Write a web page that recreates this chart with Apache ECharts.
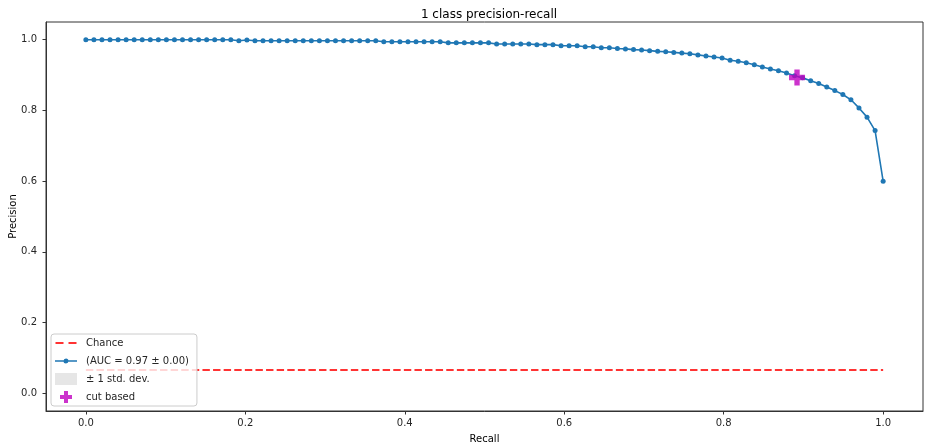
<!DOCTYPE html>
<html><head><meta charset="utf-8">
<script src="https://cdn.jsdelivr.net/npm/echarts@6/dist/echarts.min.js"></script>
<style>html,body{margin:0;padding:0;background:#fff}#c{width:927px;height:445px}</style>
</head><body><div id="c"></div>
<script>
const titleText = '1 class precision-recall';
const recall = [
 0.0000,0.0101,0.0202,0.0303,0.0404,0.0505,0.0606,0.0707,0.0808,0.0909,
 0.1010,0.1111,0.1212,0.1313,0.1414,0.1515,0.1616,0.1717,0.1818,0.1919,
 0.2020,0.2121,0.2222,0.2323,0.2424,0.2525,0.2626,0.2727,0.2828,0.2929,
 0.3030,0.3131,0.3232,0.3333,0.3434,0.3535,0.3636,0.3737,0.3838,0.3939,
 0.4040,0.4141,0.4242,0.4343,0.4444,0.4545,0.4646,0.4747,0.4848,0.4949,
 0.5051,0.5152,0.5253,0.5354,0.5455,0.5556,0.5657,0.5758,0.5859,0.5960,
 0.6061,0.6162,0.6263,0.6364,0.6465,0.6566,0.6667,0.6768,0.6869,0.6970,
 0.7071,0.7172,0.7273,0.7374,0.7475,0.7576,0.7677,0.7778,0.7879,0.7980,
 0.8081,0.8182,0.8283,0.8384,0.8485,0.8586,0.8687,0.8788,0.8889,0.8990,
 0.9091,0.9192,0.9293,0.9394,0.9495,0.9596,0.9697,0.9798,0.9899,1.0000
];
const precision = [
 1.000,1.000,1.000,1.000,1.000,1.000,1.000,1.000,1.000,1.000,
 1.000,1.000,1.000,1.000,1.000,1.000,1.000,1.000,1.000,0.997,
 0.999,0.997,0.997,0.997,0.997,0.997,0.997,0.997,0.997,0.997,
 0.997,0.997,0.997,0.997,0.997,0.997,0.997,0.994,0.994,0.994,
 0.994,0.994,0.994,0.994,0.994,0.991,0.991,0.991,0.991,0.991,
 0.991,0.988,0.988,0.988,0.988,0.988,0.986,0.986,0.986,0.983,
 0.983,0.983,0.980,0.980,0.977,0.977,0.975,0.974,0.972,0.971,
 0.969,0.967,0.966,0.964,0.962,0.960,0.957,0.954,0.951,0.948,
 0.942,0.939,0.935,0.929,0.923,0.917,0.912,0.906,0.898,0.892,
 0.884,0.876,0.866,0.856,0.845,0.830,0.807,0.781,0.743,0.600
];
const stdDev = 0.00;
const aucMean = 0.97;
const aucStd = 0.00;
const chanceX = [0, 1];
const chanceLevel = 0.066;
const cutPoint = [0.892, 0.893];
const xTicks = [0, 0.2, 0.4, 0.6, 0.8, 1.0];
const yTicks = [0, 0.2, 0.4, 0.6, 0.8, 1.0];
const names = {
  chance: 'Chance',
  auc: '(AUC = ' + aucMean.toFixed(2) + ' \u00b1 ' + aucStd.toFixed(2) + ')',
  std: '\u00b1 1 std. dev.',
  cut: 'cut based'
};

const FONT = 'DejaVu Sans';
const plus = 'path://M1,0H2V1H3V2H2V3H1V2H0V1H1Z';
const dashIcon = 'path://M0,5H8V7H0Z M13,5H21V7H13Z M0,0H0.01V0.01H0Z M0,11.99H0.01V12H0Z';
const lineDotIcon = 'path://M0,5.25H22V6.75H0Z M11,3.5A2.5,2.5 0 1 1 10.99,3.5Z M0,0H0.01V0.01H0Z M0,11.99H0.01V12H0Z';
const chart = echarts.init(document.getElementById('c'), null, {renderer: 'canvas'});
const axisCommon = {
  type: 'value', min: -0.05, max: 1.05,
  splitLine: {show: false},
  axisLine: {show: true, onZero: false, lineStyle: {color: '#333', width: 1}},
  nameLocation: 'middle',
  nameMoveOverlap: false,
  nameTextStyle: {fontFamily: FONT, fontSize: 10, color: '#000'}
};
chart.setOption({
  animation: false,
  backgroundColor: '#fff',
  title: {text: titleText, left: 484, top: 4, textAlign: 'center',
    textStyle: {fontFamily: FONT, fontSize: 12, fontWeight: 'normal', color: '#000'}},
  grid: {left: 46, right: 4, top: 22, bottom: 34, containLabel: false, outerBoundsMode: 'none',
    show: true, borderColor: '#333', borderWidth: 1, backgroundColor: 'transparent'},
  xAxis: Object.assign({}, axisCommon, {
    name: 'Recall', nameGap: 23,
    axisTick: {show: true, length: 3.5, customValues: xTicks, lineStyle: {color: '#333'}},
    axisLabel: {customValues: xTicks, formatter: v => v.toFixed(1), margin: 7,
      fontFamily: FONT, fontSize: 10, color: '#262626'}
  }),
  yAxis: Object.assign({}, axisCommon, {
    name: 'Precision', nameGap: 28,
    axisTick: {show: true, length: 3.5, customValues: yTicks, lineStyle: {color: '#333'}},
    axisLabel: {customValues: yTicks, formatter: v => v.toFixed(1), margin: 9,
      fontFamily: FONT, fontSize: 10, color: '#262626'}
  }),
  legend: {
    orient: 'vertical', left: 51, top: 334,
    padding: [3, 8, 3, 4], itemWidth: 22, itemHeight: 12, itemGap: 6,
    backgroundColor: 'rgba(255,255,255,0.8)', borderColor: '#cccccc', borderWidth: 1, borderRadius: 3,
    selectedMode: false,
    textStyle: {fontFamily: FONT, fontSize: 10, color: '#262626', padding: [0, 0, 0, 4]},
    data: [
      {name: names.chance, icon: dashIcon, itemStyle: {color: '#ff3333', borderWidth: 0}},
      {name: names.auc, icon: lineDotIcon, itemStyle: {color: '#1f77b4', borderWidth: 0}},
      {name: names.std, icon: 'rect', itemStyle: {color: '#e6e6e6', borderWidth: 0}},
      {name: names.cut, icon: plus, itemStyle: {color: '#bf00bf', borderWidth: 0}}
    ]
  },
  series: [
    {name: names.chance, type: 'line', data: chanceX.map(x => [x, chanceLevel]),
      symbol: 'none', z: 2,
      lineStyle: {color: '#ff3333', width: 2, type: [7.4, 3.2]}, itemStyle: {color: '#ff3333'}},
    {name: names.auc, type: 'line', data: recall.map((r, i) => [r, precision[i]]),
      symbol: 'circle', symbolSize: 5, showSymbol: true, z: 3,
      lineStyle: {color: '#1f77b4', width: 1.6}, itemStyle: {color: '#1f77b4'}},
    {name: names.std, type: 'custom', z: 1,
      data: recall.map((r, i) => [r, precision[i] - stdDev, precision[i] + stdDev]),
      itemStyle: {color: 'rgba(128,128,128,0.2)'},
      renderItem: function (params, api) {
        if (params.dataIndex !== 0) return null;
        const upper = [], lower = [];
        for (let i = 0; i < recall.length; i++) {
          upper.push(api.coord([recall[i], precision[i] + stdDev]));
          lower.unshift(api.coord([recall[i], precision[i] - stdDev]));
        }
        return {type: 'polygon', shape: {points: upper.concat(lower)},
          style: {fill: 'rgba(128,128,128,0.2)', stroke: 'none'}};
      }},
    {name: names.cut, type: 'scatter', data: [cutPoint], symbol: plus, symbolSize: 16, z: 5,
      itemStyle: {color: '#bf00bf'}}
  ]
});
</script></body></html>
